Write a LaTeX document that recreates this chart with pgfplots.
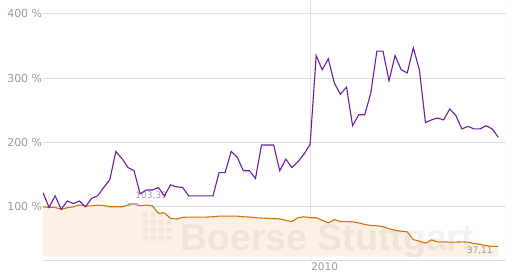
\documentclass[border=0pt]{standalone}
\usepackage{pgfplots}
\pgfplotsset{compat=1.18}
\usepackage{pgfplotstable}
\usepgfplotslibrary{fillbetween}
\usepackage{fontspec}
\setmainfont{DejaVu Sans}
\newfontfamily\wmfont{Liberation Sans}
\definecolor{purp}{HTML}{6B1FA0}
\definecolor{oran}{HTML}{D2730F}
\definecolor{fillc}{HTML}{FBF1E4}
\definecolor{gridc}{HTML}{DDDDDD}
\definecolor{tickc}{HTML}{9A9A9A}
\pgfplotstableread{
i p o
0 122 100
1 99 99
2 117 99
3 96 96
4 109 98.5
5 105 100
6 109 103
7 100 101
8 113 101.5
9 117 102.5
10 130 102
11 142 100
12 186 100
13 175 100
14 161 102.5
15 156 104
16 120 101.5
17 126 102.5
18 126 101.5
19 130 90
20 117 90.5
21 134 82
22 131 81
23 130 83.5
24 117 84
25 117 84
26 117 84
27 117 84
28 117 84.5
29 153 85.4
30 153 85.4
31 186 85.4
32 177 85.4
33 156 84.5
34 156 84
35 144 83
36 196 82.5
37 196 82
38 196 81.5
39 156 81
40 174 79
41 161 77
42 170 83
43 182 84.5
44 197 83
45 335 83
46 313 79
47 330 75
48 292 80
49 275 77
50 286 77
51 226 76.5
52 243 75
53 243 72.5
54 277 71
55 342 70.5
56 342 69
57 296 66
58 335 63.5
59 313 62
60 308 61
61 347 49
62 313 46.5
63 231 43.5
64 235 48.5
65 238 45.5
66 235 45.5
67 252 45
68 242 45
69 221 45.5
70 225 45
71 221 43
72 221 41.5
73 226 39.5
74 221 38.5
75 208 38.5
}\data
\begin{document}
\begin{tikzpicture}
\begin{axis}[
  name=ax,
  scale only axis,
  width=463pt, height=260.3pt,
  xmin=0, xmax=76.27,
  ymin=16.1, ymax=420.7,
  axis line style={draw=none},
  ytick={100,200,300,400},
  yticklabels={100 \%,200 \%,300 \%,400 \%},
  xtick={44},
  xticklabels={2010},
  major tick length=0pt,
  xmajorgrids, ymajorgrids,
  grid style={gridc, line width=0.9pt},
  yticklabel style={font=\fontsize{11}{13}\selectfont, text=tickc, anchor=east, inner xsep=0.6pt},
  xticklabel style={font=\fontsize{10.5}{12}\selectfont, text=tickc, anchor=north west, inner sep=0pt, yshift=-2pt, xshift=1pt},
]
\addplot[name path=or, draw=none] table[x=i,y=o]{\data};
\addplot[name path=base, draw=none] coordinates {(0,23) (75,23)};
\addplot[fill=fillc, draw=none] fill between[of=or and base];
\draw[gridc, line width=0.9pt] (rel axis cs:0,0) -- (rel axis cs:1,0) -- (rel axis cs:1,1);
\node[anchor=base west, inner sep=0pt, text=black, opacity=0.05, font=\wmfont\bfseries\fontsize{37.5}{40}\selectfont] at (axis cs:22.57,31.5) {Boerse Stuttgart};
\addplot[draw=oran, line width=1.1pt] table[x=i,y=o]{\data};
\addplot[only marks, mark=-, mark size=5pt, mark options={line width=2pt, draw=gray!60}] coordinates {(14.8,104.9)};
\node[anchor=west, inner sep=0pt, text=tickc, font=\fontsize{9}{10}\selectfont] at (axis cs:15.2,117.6) {103,39};
\node[anchor=west, inner sep=0pt, text=tickc, font=\fontsize{9}{10}\selectfont] at (axis cs:69.8,32.1) {37,11};
\addplot[draw=purp, line width=1.1pt] table[x=i,y=p]{\data};
\end{axis}
\foreach \cx in {102,110,118,126} {
  \foreach \cy in {46.3,38.3,30.3,22.3} {
    \fill[black, opacity=0.045, rounded corners=1pt] ([xshift=\cx pt-2.5pt, yshift=\cy pt-2.5pt]ax.south west) rectangle ++(5pt,5pt);
  }
}
\path[use as bounding box] ([xshift=-43pt,yshift=-12.7pt]ax.south west) rectangle ([xshift=10pt]ax.north east);
\end{tikzpicture}
\end{document}
